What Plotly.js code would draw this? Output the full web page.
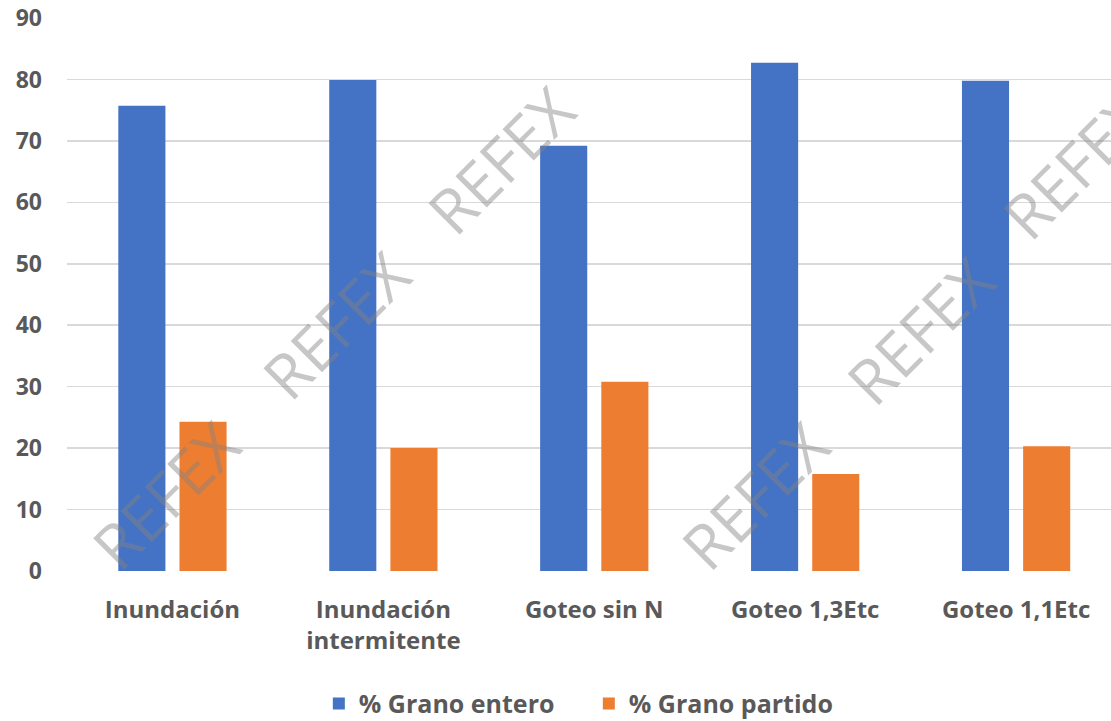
<!DOCTYPE html>
<html><head><meta charset="utf-8">
<script src="https://cdn.plot.ly/plotly-3.0.1.min.js"></script>
<style>html,body{margin:0;padding:0;background:#fff}#chart{width:1111px;height:721px}</style>
</head><body><div id="chart"></div>
<script>
var categories = ["Inundación", "Inundación<br>intermitente", "Goteo sin N", "Goteo 1,3Etc", "Goteo 1,1Etc"];
var granoEntero = [75.7, 79.9, 69.2, 82.7, 79.8];
var granoPartido = [24.3, 20.0, 30.8, 15.8, 20.3];
var yTicks = [0, 10, 20, 30, 40, 50, 60, 70, 80, 90];
var watermarkText = "REFEX";

var font = {family: "Open Sans, sans-serif", color: "#595959", size: 24, weight: 700};
var yfont = {family: "Open Sans, sans-serif", color: "#595959", size: 23, weight: 700};
var legendFont = {family: "Open Sans, sans-serif", color: "#595959", size: 25, weight: 700};
var traces = [
  {type: "bar", name: "% Grano entero", x: categories, y: granoEntero, marker: {color: "#4472C4"}},
  {type: "bar", name: "% Grano partido", x: categories, y: granoPartido, marker: {color: "#ED7D31"}}
];
var wmPos = [[0.094,0.137],[0.257,0.445],[0.415,0.743],[0.659,0.137],[0.817,0.436],[0.966,0.734]];
var annotations = wmPos.map(function(p){
  return {text: watermarkText, xref: "paper", yref: "paper", x: p[0], y: p[1], xanchor: "center", yanchor: "middle", showarrow: false,
    textangle: -45, font: {family: "Open Sans, sans-serif", size: 62, color: "rgba(130,130,130,0.45)", weight: 400}};
});
var layout = {
  width: 1111, height: 721,
  margin: {l: 67, r: 0, t: 18, b: 150},
  paper_bgcolor: "#fff", plot_bgcolor: "#fff",
  barmode: "group", bargap: 0.42, bargroupgap: 0.23,
  font: font,
  xaxis: {range: [-0.5, 4.45], showgrid: false, zeroline: false, showline: false, ticks: "", tickfont: font, ticklabelstandoff: 22, automargin: false},
  yaxis: {range: [0, 90], tickvals: yTicks, showgrid: true, gridcolor: "#d9d9d9", gridwidth: 1.5, zeroline: false, showline: false, ticks: "", ticklabelstandoff: 24, tickfont: yfont, automargin: false},
  showlegend: true,
  legend: {orientation: "h", x: 0.53, xanchor: "center", xref: "container", yref: "container", y: 0.024, yanchor: "middle", font: legendFont, itemwidth: 30, entrywidth: 225, traceorder: "normal"},
  annotations: annotations
};
Plotly.newPlot("chart", traces, layout, {staticPlot: true, displayModeBar: false});
</script></body></html>
